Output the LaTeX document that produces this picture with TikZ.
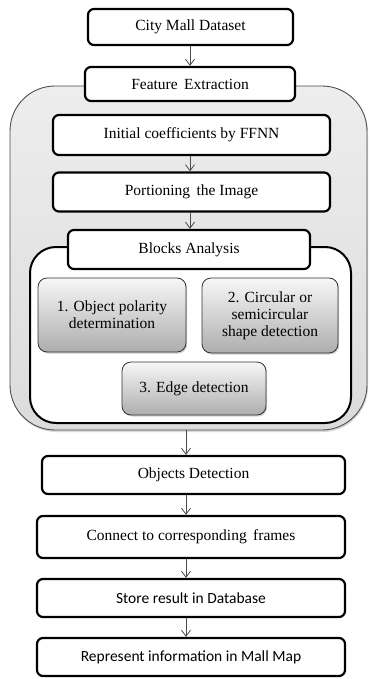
\documentclass[tikz,border=0pt]{standalone}
\usepackage{fontspec}
\setmainfont{Liberation Serif}
\newfontfamily\sansf{Carlito}
\usetikzlibrary{arrows.meta,shadows}
\begin{document}
\begin{tikzpicture}[x=1pt,y=-1pt,
  box/.style={draw=black, line width=2.2pt, rounded corners=6pt, fill=white, inner sep=0pt,
    font=\fontsize{15.5}{17}\selectfont, align=center},
  gbox/.style={draw=black!80, line width=0.8pt, rounded corners=9pt, inner sep=0pt,
    top color=black!3, bottom color=black!32, align=center,
    font=\fontsize{15.5}{17}\selectfont,
    drop shadow={shadow xshift=1.2pt, shadow yshift=-1.5pt, opacity=0.35}},
  region/.style={draw=black!70, line width=0.9pt, inner sep=0pt,
    top color=black!7, bottom color=black!14,
    drop shadow={shadow xshift=1pt, shadow yshift=-2pt, opacity=0.3}},
  inner/.style={draw=black, line width=2pt, fill=white, inner sep=0pt},
  arr/.style={draw=black!70, line width=0.8pt, -{Straight Barb[length=6pt,width=9pt]}}]
\useasboundingbox (0,0) rectangle (369,679);
\coordinate (ax) at (190,0);
\coordinate (bx) at (186,0);
% outer region
\node[region, rounded corners=45pt, minimum width=357pt, minimum height=344pt] (outer) at (188.5,258) {};
% inner region
\node[inner, rounded corners=26pt, minimum width=321pt, minimum height=176pt] (innerr) at (190.5,335) {};
% boxes
\node[box, minimum width=205pt, minimum height=36pt] (city) at (190.5,27) {City Mall Dataset};
\node[box, minimum width=210pt, minimum height=34pt] (feat) at (190,84) {Feature\, Extraction};
\node[box, minimum width=277pt, minimum height=40pt] (init) at (191.5,135) {Initial coefficients by FFNN};
\node[box, minimum width=277pt, minimum height=39pt] (port) at (191.5,192) {Portioning\, the Image};
\node[box, minimum width=242pt, minimum height=39pt] (blocks) at (189,249.5) {Blocks Analysis};
\node[gbox, minimum width=148pt, minimum height=74pt] (b1) at (112,315) {1. Object polarity\\determination};
\node[gbox, minimum width=136pt, minimum height=75pt] (b2) at (270,315.5) {2. Circular or\\semicircular\\shape detection};
\node[gbox, minimum width=144pt, minimum height=53pt] (b3) at (194,388.5) {3. Edge detection};
\node[box, minimum width=303pt, minimum height=38pt] (obj) at (193.5,475) {Objects Detection};
\node[box, minimum width=308pt, minimum height=42pt] (conn) at (191,537) {Connect to corresponding\, frames};
\node[box, minimum width=308pt, minimum height=38pt, font=\sansf\fontsize{15.5}{17}\selectfont] (store) at (191,598) {Store result in Database};
\node[box, minimum width=308pt, minimum height=38pt, font=\sansf\fontsize{15.5}{17}\selectfont] (rep) at (191,657) {Represent information in Mall Map};
% arrows
\draw[arr] (city.south -| ax) -- (feat.north -| ax);
\draw[arr] (init.south -| ax) -- (port.north -| ax);
\draw[arr] (port.south -| ax) -- (blocks.north -| ax);
\draw[arr] (outer.south -| bx) -- (obj.north -| bx);
\draw[arr] (obj.south -| bx) -- (conn.north -| bx);
\draw[arr] (conn.south -| bx) -- (store.north -| bx);
\draw[arr] (store.south -| bx) -- (rep.north -| bx);
\end{tikzpicture}
\end{document}
